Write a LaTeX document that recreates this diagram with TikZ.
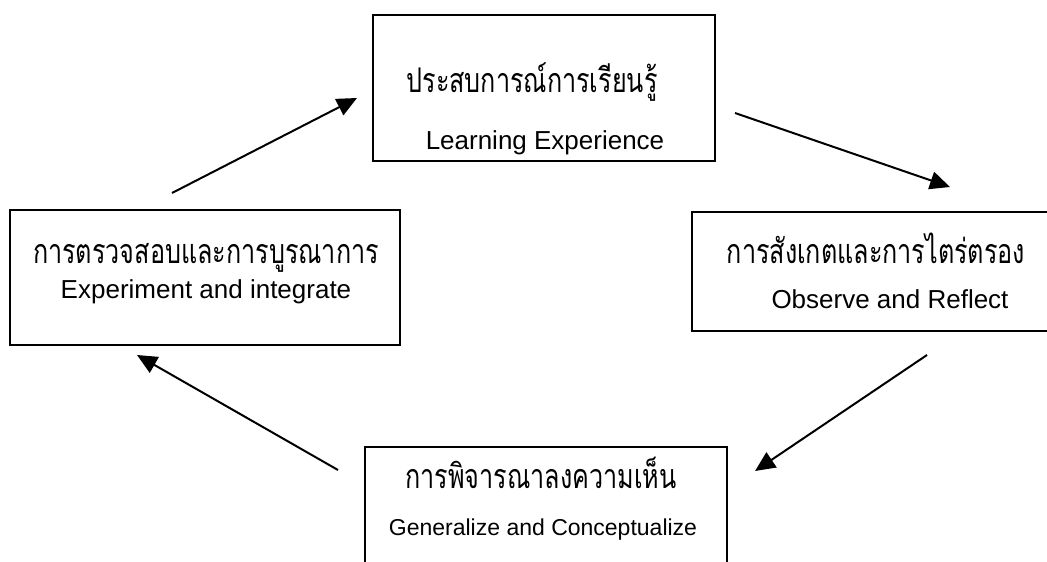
\documentclass[tikz,border=0pt]{standalone}
\usepackage{fontspec}
\setmainfont{Liberation Sans}
\newfontfamily\thaifont[Script=Thai, FakeStretch=0.74]{Loma}
\usetikzlibrary{arrows.meta}

\tikzset{
	frame/.style={draw, line width=1.3pt, inner sep=0pt},
	thai/.style={anchor=base, font=\thaifont\fontsize{17pt}{19pt}\selectfont},
	eng/.style={anchor=base, font=\fontsize{13pt}{15pt}\selectfont},
	arr/.style={-{Triangle[length=10pt,width=9pt]}, line width=1pt},
}

\begin{document}
\begin{tikzpicture}[x=0.5pt,y=-0.5pt]
	\useasboundingbox (0,0) rectangle (1047,561);
	% boxes
	\node[frame, minimum width=171pt, minimum height=73pt] (exp) at (544,88) {};
	\node[frame, minimum width=191.5pt, minimum height=59.5pt] (obs) at (883.5,271.5) {};
	\node[frame, minimum width=181pt, minimum height=76.5pt] (gen) at (546,523.5) {};
	\node[frame, minimum width=195pt, minimum height=67.5pt] (integ) at (205,277.5) {};
	% texts
	\node[thai] (expTh) at (532,93) {ประสบการณ์การเรียนรู้};
	\node[eng] (expEn) at (545,150) {Learning Experience};
	\node[thai] (obsTh) at (876,263) {การสังเกตและการไตร่ตรอง};
	\node[eng] (obsEn) at (890,308) {Observe and Reflect};
	\node[thai] (genTh) at (541,488) {การพิจารณาลงความเห็น};
	\node[eng, font=\fontsize{11.5pt}{14pt}\selectfont] (genEn) at (543,535) {Generalize and Conceptualize};
	\node[thai] (integTh) at (206,263) {การตรวจสอบและการบูรณาการ};
	\node[eng] (integEn) at (206,298) {Experiment and integrate};
	% arrows
	\coordinate (a1) at (172,193);
	\coordinate (b1) at (357,98);
	\coordinate (a2) at (735,113);
	\coordinate (b2) at (950,187);
	\coordinate (a3) at (927,355);
	\coordinate (b3) at (755,471);
	\coordinate (a4) at (338,470);
	\coordinate (b4) at (137,355);
	\draw[arr] (a1) -- (b1);
	\draw[arr] (a2) -- (b2);
	\draw[arr] (a3) -- (b3);
	\draw[arr] (a4) -- (b4);
\end{tikzpicture}
\end{document}
